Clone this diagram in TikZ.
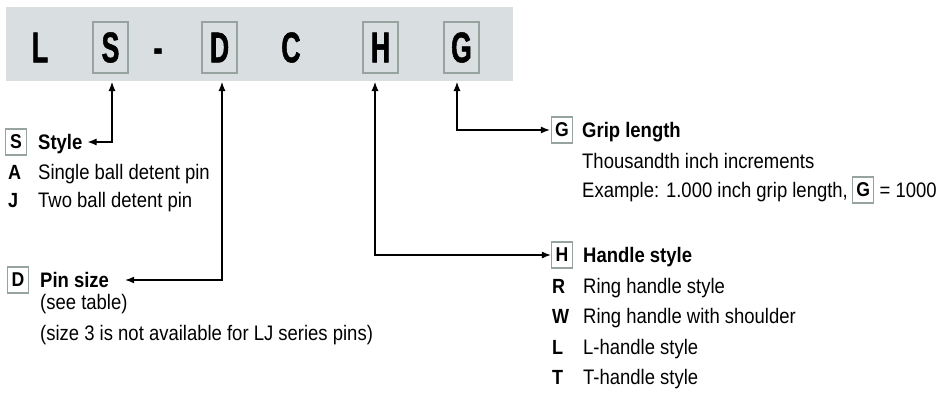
\documentclass[tikz,border=0pt]{standalone}
\usepackage{fontspec}
\setmainfont{Liberation Sans}[FakeStretch=0.88]
\newfontfamily\bigfont{Liberation Sans}[FakeStretch=0.62,FakeBold=1.2]
\usetikzlibrary{arrows.meta}
\definecolor{bannergray}{HTML}{D9DEE1}
\definecolor{boxgray}{HTML}{97A39E}
\tikzset{
  bigletter/.style={font=\bigfont\bfseries\fontsize{43}{43}\selectfont, inner sep=0pt, minimum width=35pt, minimum height=51pt},
  bigbox/.style={bigletter, draw=boxgray, line width=2pt},
  smallbox/.style={draw=boxgray, line width=1.3pt, minimum width=21pt, minimum height=26pt, inner sep=0pt, font=\bfseries\fontsize{20}{20}\selectfont},
  heading/.style={font=\bfseries\fontsize{21}{21}\selectfont, inner sep=2pt, text height=14pt, text depth=0pt, anchor=base west},
  item/.style={font=\fontsize{21}{21}\selectfont, inner sep=0pt, anchor=base west},
  itemkey/.style={font=\bfseries\fontsize{20.5}{20.5}\selectfont, inner sep=0pt, anchor=base west},
  conn/.style={line width=1.1pt, {Latex[length=9pt,width=7pt]}-{Latex[length=9pt,width=7pt]}}
}
\begin{document}
\begin{tikzpicture}[x=1pt,y=-1pt]
\useasboundingbox (0,0) rectangle (948,394);
\node[fill=bannergray, minimum width=507pt, minimum height=74pt, inner sep=0pt, anchor=north west] (banner) at (6,7) {};
% banner letters
\node[bigletter] (bL) at (40,47.5) {\vphantom{L}L};
\node[bigbox] (bS) at (110.5,47.5) {\vphantom{L}S};
\node[bigletter] (bdash) at (158,47.5) {\vphantom{L}-};
\node[bigbox] (bD) at (219.5,47.5) {\vphantom{L}D};
\node[bigletter] (bC) at (291,47.5) {\vphantom{L}C};
\node[bigbox] (bH) at (380.5,47.5) {\vphantom{L}H};
\node[bigbox] (bG) at (461.5,47.5) {\vphantom{L}G};
% arrow start points at banner bottom
\coordinate (sTop) at (112,82);
\coordinate (dTop) at (222,82);
\coordinate (hTop) at (375,82);
\coordinate (gTop) at (457,82);
% Style block
\node[smallbox] (sS) at (16,142) {\vphantom{L}S};
\node[heading] (style) at (36,149) {Style};
\node[itemkey] (kA) at (8,179) {A};
\node[item] (tA) at (38,179) {Single ball detent pin};
\node[itemkey] (kJ) at (8,207) {J};
\node[item] (tJ) at (38,207) {Two ball detent pin};
% Pin size block
\node[smallbox] (sD) at (18,280) {\vphantom{L}D};
\node[heading] (pin) at (38,287) {Pin size};
\node[item] (tP1) at (40,309) {(see table)};
\node[item] (tP2) at (40,340) {(size 3 is not available for LJ series pins)};
% Grip length block
\node[smallbox] (sG) at (562,130) {\vphantom{L}G};
\node[heading] (grip) at (580,137) {Grip length};
\node[item] (tG1) at (582,168) {Thousandth inch increments};
\node[item] (tG2) at (582,197) {Example: 1.000 inch grip length,};
\node[smallbox, anchor=west] (gin) at ([xshift=4pt]tG2.east |- 0,190) {\vphantom{L}G};
\coordinate (eqpos) at (gin.east |- tG2.base);
\node[item] (tG3) at ([xshift=5pt]eqpos) {= 1000};
% Handle style block
\node[smallbox] (sH) at (562,255) {\vphantom{L}H};
\node[heading] (handle) at (581,262) {Handle style};
\node[itemkey] (kR) at (552,293) {R};
\node[item] (tR) at (583,293) {Ring handle style};
\node[itemkey] (kW) at (552,323) {W};
\node[item] (tW) at (583,323) {Ring handle with shoulder};
\node[itemkey] (kL) at (552,354) {L};
\node[item] (tL) at (583,354) {L-handle style};
\node[itemkey] (kT) at (552,384) {T};
\node[item] (tT) at (583,384) {T-handle style};
% connectors
\draw[conn] (sTop) |- ([xshift=3pt]style.east);
\draw[conn] (dTop) |- ([xshift=14pt]pin.east);
\draw[conn] (hTop) |- (sH.west);
\draw[conn] (gTop) |- ([xshift=-1pt]sG.west);
\end{tikzpicture}
\end{document}
